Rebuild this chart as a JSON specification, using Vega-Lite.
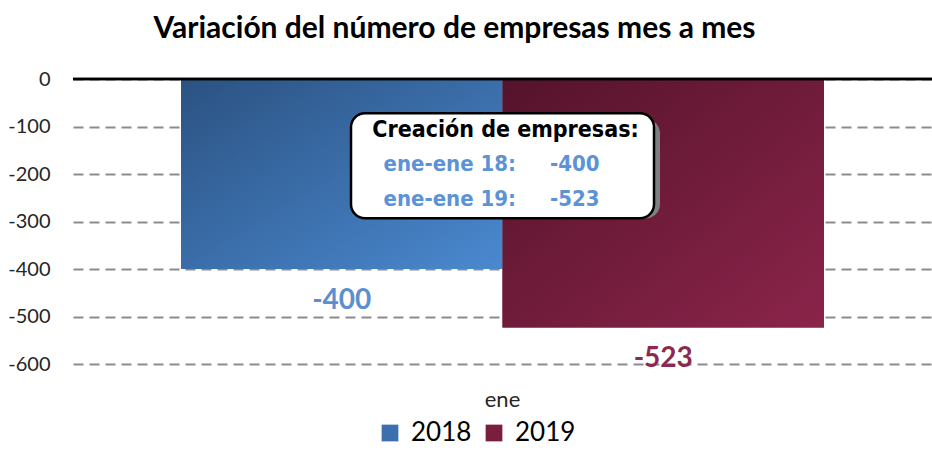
{
  "$schema": "https://vega.github.io/schema/vega-lite/v6.json",
  "width": 859,
  "height": 304,
  "autosize": {"type": "none"},
  "padding": {"left": 73, "top": 79, "right": 0, "bottom": 72},
  "background": "white",
  "config": {
    "view": {"stroke": null},
    "font": "Lato",
    "locale": {"number": {"decimal": ".", "thousands": ",", "grouping": [3], "currency": ["$", ""], "minus": "-"}}
  },
  "title": {
    "text": "Variación del número de empresas mes a mes",
    "font": "Lato",
    "fontSize": 30,
    "fontWeight": "bold",
    "color": "#000000",
    "anchor": "middle",
    "frame": "group",
    "dx": -48,
    "offset": 25
  },
  "data": {
    "values": [
      {"mes": "ene", "anio": "2018", "valor": -400, "etiqueta": "ene-ene 18:"},
      {"mes": "ene", "anio": "2019", "valor": -523, "etiqueta": "ene-ene 19:"}
    ]
  },
  "layer": [
    {
      "mark": {"type": "bar"},
      "encoding": {
        "x": {
          "field": "mes", "type": "nominal",
          "scale": {"paddingInner": 0, "paddingOuter": 0.168},
          "axis": {"title": null, "labelAngle": 0, "domain": false, "ticks": false, "labelFont": "Lato", "labelFontSize": 22, "labelColor": "#262626", "labelPadding": 6}
        },
        "xOffset": {"field": "anio", "type": "nominal", "scale": {"paddingInner": 0, "paddingOuter": 0}},
        "y": {
          "field": "valor", "type": "quantitative",
          "scale": {"domain": [-640, 0], "nice": false, "zero": false},
          "axis": {
            "title": null, "values": [0, -100, -200, -300, -400, -500, -600],
            "domain": false, "ticks": false, "labelFont": "Lato", "labelFontSize": 20,
            "labelColor": "#262626", "labelPadding": 23, "labelBaseline": "middle",
            "grid": true, "gridColor": "#8c8c8c", "gridDash": [10, 6], "gridWidth": 2
          }
        },
        "color": {
          "field": "anio", "type": "nominal",
          "scale": {"domain": ["2018", "2019"], "range": ["#3b6fae", "#7a1e40"]},
          "legend": {
            "title": null, "orient": "none", "direction": "horizontal",
            "legendX": 304, "legendY": 341,
            "symbolType": "square", "symbolSize": 280, "symbolStrokeWidth": 0,
            "labelFont": "Lato", "labelFontSize": 26, "labelColor": "#000000",
            "columnPadding": 9, "labelOffset": 8
          }
        }
      }
    },
    {
      "mark": {"type": "bar"},
      "encoding": {
        "x": {"field": "mes", "type": "nominal"},
        "xOffset": {"field": "anio", "type": "nominal"},
        "y": {"field": "valor", "type": "quantitative"},
        "fill": {
          "condition": {
            "test": "datum.anio === '2018'",
            "value": {"gradient": "linear", "x1": 0, "y1": 0, "x2": 1, "y2": 1, "stops": [{"offset": 0, "color": "#2b5282"}, {"offset": 1, "color": "#4a89d0"}]}
          },
          "value": {"gradient": "linear", "x1": 0, "y1": 0, "x2": 1, "y2": 1, "stops": [{"offset": 0, "color": "#55132b"}, {"offset": 1, "color": "#8b244a"}]}
        }
      }
    },
    {
      "mark": {"type": "rule", "color": "#000000", "strokeWidth": 2.5},
      "encoding": {"y": {"datum": 0}}
    },
    {
      "mark": {"type": "text", "fontSize": 28, "fontWeight": "bold", "font": "Lato", "baseline": "middle", "dy": 32},
      "encoding": {
        "x": {"field": "mes", "type": "nominal"},
        "xOffset": {"field": "anio", "type": "nominal"},
        "y": {"field": "valor", "type": "quantitative"},
        "text": {"field": "valor", "type": "quantitative"},
        "fill": {"condition": {"test": "datum.anio === '2018'", "value": "#5b8fd0"}, "value": "#8b2a4e"}
      }
    },
    {
      "transform": [{"filter": "datum.anio === '2018'"}],
      "mark": {"type": "bar", "width": 303, "cornerRadius": 14, "fill": "#7f7f7f", "xOffset": 6, "yOffset": 6},
      "encoding": {
        "x": {"field": "mes", "type": "nominal"},
        "y": {"datum": -72},
        "y2": {"datum": -293}
      }
    },
    {
      "transform": [{"filter": "datum.anio === '2018'"}],
      "mark": {"type": "bar", "width": 303, "cornerRadius": 14, "fill": "#ffffff", "stroke": "#000000", "strokeWidth": 2.5},
      "encoding": {
        "x": {"field": "mes", "type": "nominal"},
        "y": {"datum": -72},
        "y2": {"datum": -293}
      }
    },
    {
      "transform": [{"filter": "datum.anio === '2018'"}],
      "mark": {"type": "text", "text": "Creación de empresas:", "font": "Liberation Sans Narrow, DejaVu Sans Condensed, Liberation Sans", "fontSize": 23, "fontWeight": "bold", "fill": "#000000", "baseline": "middle", "dx": 3},
      "encoding": {
        "x": {"field": "mes", "type": "nominal"},
        "y": {"datum": -108}
      }
    },
    {
      "transform": [{"filter": "datum.anio === '2018'"}],
      "mark": {"type": "text", "font": "Liberation Sans Narrow, DejaVu Sans Condensed, Liberation Sans", "fontSize": 22, "fontWeight": "bold", "fill": "#5b93d6", "baseline": "middle", "align": "left", "dx": -119},
      "encoding": {
        "x": {"field": "mes", "type": "nominal"},
        "y": {"datum": -179},
        "text": {"field": "etiqueta"}
      }
    },
    {
      "transform": [{"filter": "datum.anio === '2018'"}],
      "mark": {"type": "text", "font": "Liberation Sans Narrow, DejaVu Sans Condensed, Liberation Sans", "fontSize": 22, "fontWeight": "bold", "fill": "#5b93d6", "baseline": "middle", "align": "right", "dx": 97},
      "encoding": {
        "x": {"field": "mes", "type": "nominal"},
        "y": {"datum": -179},
        "text": {"field": "valor", "type": "quantitative"}
      }
    },
    {
      "transform": [{"filter": "datum.anio === '2019'"}],
      "mark": {"type": "text", "font": "Liberation Sans Narrow, DejaVu Sans Condensed, Liberation Sans", "fontSize": 22, "fontWeight": "bold", "fill": "#5b93d6", "baseline": "middle", "align": "left", "dx": -119},
      "encoding": {
        "x": {"field": "mes", "type": "nominal"},
        "y": {"datum": -253},
        "text": {"field": "etiqueta"}
      }
    },
    {
      "transform": [{"filter": "datum.anio === '2019'"}],
      "mark": {"type": "text", "font": "Liberation Sans Narrow, DejaVu Sans Condensed, Liberation Sans", "fontSize": 22, "fontWeight": "bold", "fill": "#5b93d6", "baseline": "middle", "align": "right", "dx": 97},
      "encoding": {
        "x": {"field": "mes", "type": "nominal"},
        "y": {"datum": -253},
        "text": {"field": "valor", "type": "quantitative"}
      }
    }
  ]
}
